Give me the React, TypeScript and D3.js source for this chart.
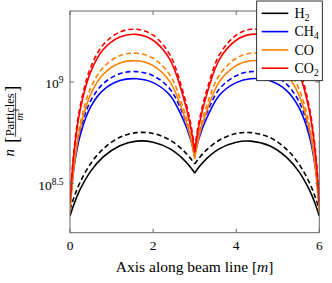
import * as d3 from 'd3';

// beam line positions [m]
const xPos = [0, 0.1, 0.25, 0.5, 0.8, 1.2, 1.6, 2.0, 2.4, 2.7, 2.9, 3.0, 3.1, 3.3, 3.6, 4.0, 4.35, 4.8, 5.2, 5.5, 5.75, 5.9, 6.0];

// log10 of particle density
const h2Solid = [8.338, 8.399, 8.472, 8.560, 8.630, 8.685, 8.708, 8.703, 8.671, 8.624, 8.579, 8.551, 8.579, 8.624, 8.671, 8.703, 8.708, 8.685, 8.630, 8.560, 8.472, 8.399, 8.338];
const h2Dashed = [8.370, 8.433, 8.508, 8.598, 8.670, 8.727, 8.750, 8.746, 8.714, 8.667, 8.623, 8.595, 8.623, 8.667, 8.714, 8.746, 8.750, 8.727, 8.670, 8.598, 8.508, 8.433, 8.370];
const ch4Solid = [8.390, 8.584, 8.741, 8.878, 8.960, 9.007, 9.016, 8.997, 8.936, 8.826, 8.719, 8.635, 8.719, 8.826, 8.936, 8.997, 9.016, 9.007, 8.960, 8.878, 8.741, 8.584, 8.390];
const ch4Dashed = [8.400, 8.602, 8.765, 8.908, 8.992, 9.041, 9.051, 9.031, 8.967, 8.851, 8.738, 8.650, 8.738, 8.851, 8.967, 9.031, 9.051, 9.041, 8.992, 8.908, 8.765, 8.602, 8.400];
const coSolid = [8.355, 8.588, 8.775, 8.940, 9.038, 9.094, 9.105, 9.081, 9.003, 8.863, 8.727, 8.620, 8.727, 8.863, 9.003, 9.081, 9.105, 9.094, 9.038, 8.940, 8.775, 8.588, 8.355];
const coDashed = [8.365, 8.606, 8.800, 8.971, 9.072, 9.130, 9.142, 9.117, 9.036, 8.889, 8.747, 8.635, 8.747, 8.889, 9.036, 9.117, 9.142, 9.130, 9.072, 8.971, 8.800, 8.606, 8.365];
const co2Solid = [8.400, 8.659, 8.868, 9.051, 9.160, 9.222, 9.235, 9.206, 9.113, 8.945, 8.782, 8.654, 8.782, 8.945, 9.113, 9.206, 9.235, 9.222, 9.160, 9.051, 8.868, 8.659, 8.400];
const co2Dashed = [8.410, 8.674, 8.886, 9.073, 9.184, 9.247, 9.260, 9.231, 9.136, 8.965, 8.800, 8.670, 8.800, 8.965, 9.136, 9.231, 9.260, 9.247, 9.184, 9.073, 8.886, 8.674, 8.410];

const gases = [
  { name: 'H', sub: '2', color: '#000000', solid: h2Solid, dashed: h2Dashed },
  { name: 'CH', sub: '4', color: '#0000ff', solid: ch4Solid, dashed: ch4Dashed },
  { name: 'CO', sub: '', color: '#ff8000', solid: coSolid, dashed: coDashed },
  { name: 'CO', sub: '2', color: '#ff0000', solid: co2Solid, dashed: co2Dashed },
];

const xTicks = [0, 2, 4, 6];
const yTickExp = ['8.5', '9'];

const W = 332;
const H = 283;
const m = { left: 70, right: 12.7, top: 11, bottom: 50.3 };
const FONT = '"Liberation Serif", serif';

export default function App() {
  const x = d3.scaleLinear().domain([0, 6]).range([m.left, W - m.right]);
  const y = d3.scaleLog().domain([10 ** 8.2562, 10 ** 9.3504]).range([H - m.bottom, m.top]);
  const x0 = x.range()[0], x1 = x.range()[1];
  const y0 = y.range()[0], y1 = y.range()[1];

  const line = d3.line<[number, number]>()
    .x(d => x(d[0]))
    .y(d => y(10 ** d[1]))
    .curve(d3.curveCatmullRom.alpha(0.5));

  // each pump section drawn separately so the cusp at 3 m stays sharp
  const pathFor = (vals: number[]) => {
    const pts = xPos.map((p, i) => [p, vals[i]] as [number, number]);
    const a = pts.filter(p => p[0] <= 3);
    const b = pts.filter(p => p[0] >= 3);
    return (line(a) || '') + (line(b) || '');
  };

  const tickLen = 4;
  const axisColor = '#666';
  const midY = (y0 + y1) / 2;

  return (
    <svg width={W} height={H} style={{ position: 'absolute', left: 0, top: 0, background: '#fff' }} fontFamily={FONT}>
      <defs>
        <clipPath id="plot">
          <rect x={x0} y={y1} width={x1 - x0} height={y0 - y1} />
        </clipPath>
      </defs>

      <g clipPath="url(#plot)" fill="none">
        {gases.map((g, i) => (
          <g key={i}>
            <path d={pathFor(g.solid)} stroke={g.color} strokeWidth={1.6} />
            <path d={pathFor(g.dashed)} stroke={g.color} strokeWidth={1.6} strokeDasharray="5,3" />
          </g>
        ))}
      </g>

      {/* frame and ticks */}
      <rect x={x0} y={y1} width={x1 - x0} height={y0 - y1} fill="none" stroke={axisColor} strokeWidth={1} />
      {xTicks.map(t => (
        <g key={'x' + t}>
          <line x1={x(t)} x2={x(t)} y1={y0} y2={y0 - tickLen} stroke={axisColor} />
          <line x1={x(t)} x2={x(t)} y1={y1} y2={y1 + tickLen} stroke={axisColor} />
          <text x={x(t)} y={y0 + 16.8} textAnchor="middle" fontSize={13.5}>{t}</text>
        </g>
      ))}
      {yTickExp.map(e => {
        const ty = y(10 ** +e);
        return (
          <g key={'y' + e}>
            <line x1={x0} x2={x0 + tickLen} y1={ty} y2={ty} stroke={axisColor} />
            <line x1={x1} x2={x1 - tickLen} y1={ty} y2={ty} stroke={axisColor} />
            <text x={63.5} y={ty + 6.5} textAnchor="end" fontSize={13.5}>
              10<tspan fontSize={9.5} dy={-5}>{e}</tspan>
            </text>
          </g>
        );
      })}

      {/* axis titles */}
      <text x={(x0 + x1) / 2} y={272} textAnchor="middle" fontSize={15.5}>
        Axis along beam line [<tspan fontStyle="italic">m</tspan>]
      </text>
      <g transform={`translate(0,${midY}) rotate(-90)`}>
        <text x={-31} y={13.5} textAnchor="middle" fontSize={15} fontStyle="italic">n</text>
        <text x={-18} y={18} textAnchor="middle" fontSize={19}>[</text>
        <text x={7} y={14} textAnchor="middle" fontSize={12.5}>Particles</text>
        <line x1={-15} x2={29} y1={15.6} y2={15.6} stroke="#000" strokeWidth={0.7} />
        <text x={7} y={23} textAnchor="middle" fontSize={11}>
          <tspan fontStyle="italic">m</tspan><tspan fontSize={7.5} dy={-4}>3</tspan>
        </text>
        <text x={33} y={18} textAnchor="middle" fontSize={19}>]</text>
      </g>

      {/* legend */}
      <g>
        <rect x={256.7} y={1} width={65.6} height={79.7} fill="#fff" stroke="#000" strokeWidth={0.8} />
        {gases.map((g, i) => {
          const ly = 13.3 + i * 18.3;
          return (
            <g key={'l' + i}>
              <line x1={261.7} x2={288.3} y1={ly} y2={ly} stroke={g.color} strokeWidth={1.6} />
              <text x={294.5} y={ly + 4.8} fontSize={14}>
                {g.name}
                {g.sub && <tspan fontSize={9.5} dy={3}>{g.sub}</tspan>}
              </text>
            </g>
          );
        })}
      </g>
    </svg>
  );
}
